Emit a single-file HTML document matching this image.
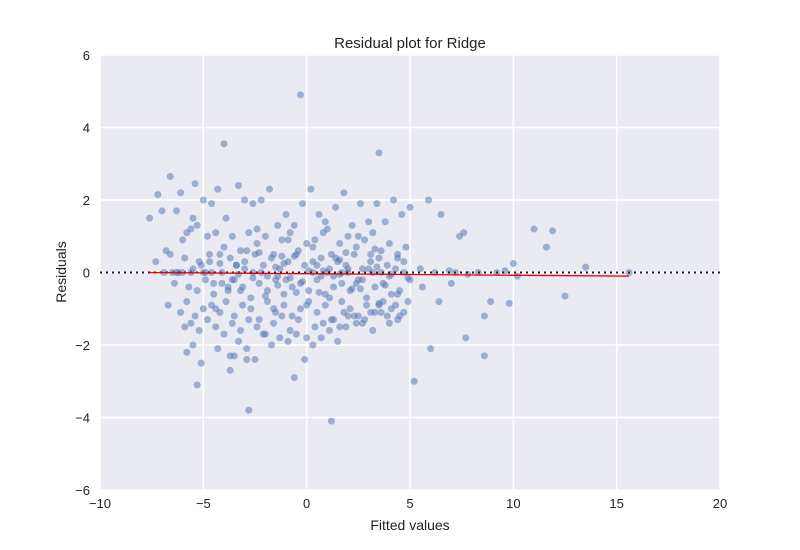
<!DOCTYPE html>
<html><head><meta charset="utf-8"><style>
body{margin:0;background:#fff;font-family:"Liberation Sans",Arial,sans-serif}
svg text{font-family:"Liberation Sans",Arial,sans-serif;fill:#222}
</style></head><body>
<svg id="chart" width="800" height="545">
<rect x="100" y="55" width="620" height="435" fill="#EAEAF2"/>
<g id="grid"></g><g id="ticks"></g><g id="pts"></g><g id="lines"></g>
<text x="410" y="48" text-anchor="middle" font-size="15">Residual plot for Ridge</text>
<text x="410" y="530" text-anchor="middle" font-size="14">Fitted values</text>
<text x="66" y="272" text-anchor="middle" font-size="14" transform="rotate(-90 66 272)">Residuals</text>
</svg>
<script>
const xTicks=[-10,-5,0,5,10,15,20];
const yTicks=[-6,-4,-2,0,2,4,6];
const fitX=[-7.6,15.6];
const fitY=[0.0,-0.1];
const residX=[-0.3,-4.0,3.5,-2.8,1.2,5.2,-5.3,15.6,13.5,12.5,11.9,11.0,11.6,10.0,9.8,8.6,8.6,7.7,8.9,7.6,7.4,6.5,5.9,6.0,-7.6,-7.2,-6.6,-6.1,-5.4,-7.0,-6.8,-6.3,-5.8,-5.5,-5.0,-4.6,-4.3,-3.9,-3.3,-3.0,-2.6,-2.2,-1.8,-1.4,-1.0,-0.6,-0.2,0.2,0.6,1.0,1.4,1.8,2.2,2.6,3.0,3.4,3.8,4.2,4.6,5.0,-6.5,-6.0,-5.6,-5.2,-4.8,-4.4,-4.0,-3.6,-3.2,-2.8,-2.4,-2.0,-1.6,-1.2,-0.8,-0.4,0.0,0.4,0.8,1.2,1.6,2.0,2.4,2.8,3.2,3.6,4.0,4.4,4.8,-6.2,-5.9,-5.5,-5.1,-4.7,-4.2,-3.7,-3.4,-3.0,-2.5,-2.1,-1.7,-1.3,-0.9,-0.5,-0.1,0.3,0.7,1.1,1.5,1.9,2.3,2.7,3.1,3.5,3.9,4.3,4.7,-6.4,-5.7,-5.3,-4.9,-4.5,-4.1,-3.8,-3.5,-3.1,-2.7,-2.3,-1.9,-1.5,-1.1,-0.7,-0.3,0.1,0.5,0.9,1.3,1.7,2.1,2.5,2.9,3.3,3.7,4.1,4.5,4.9,-6.7,-6.1,-5.8,-5.4,-5.0,-4.6,-4.2,-3.9,-3.5,-3.1,-2.7,-2.3,-1.9,-1.5,-1.1,-0.7,-0.3,0.1,0.5,0.9,1.3,1.7,2.1,2.5,2.9,3.3,3.7,4.1,4.5,-5.9,-5.6,-5.2,-4.8,-4.4,-4.0,-3.6,-3.2,-2.8,-2.4,-2.0,-1.6,-1.2,-0.8,-0.4,0.0,0.4,0.8,1.2,1.6,2.0,2.4,2.8,3.2,3.6,4.0,4.4,-5.8,-5.5,-5.1,-4.3,-3.7,-3.3,-2.9,-2.5,-2.1,-1.7,-1.3,-0.9,-0.5,-0.1,0.3,0.7,1.1,1.5,1.9,2.3,2.7,3.1,3.5,3.9,4.3,4.7,-3.7,-3.5,-2.9,-2.6,-1.0,-0.6,0.1,0.7,1.0,1.6,2.0,3.6,4.0,4.9,5.5,6.2,6.9,7.2,7.8,8.3,9.2,9.6,10.2,6.4,7.0,5.6,5.0,4.4,-4.5,-4.6,-5.0,-5.6,-6.0,-6.3,-6.9,-7.3,-6.6,-4.9,-4.1,-3.3,-1.4,0.3,1.7,3.2,4.7,
-3.0,-2.2,-1.5,-0.8,0.5,1.3,2.0,2.7,3.4,4.1,-3.4,-2.6,-1.9,-1.1,-0.2,0.8,1.6,2.4,3.0,3.8,-4.2,-3.6,-2.9,-2.0,-1.2,-0.5,0.3,1.1,1.9,2.6,3.3,4.4,-4.7,-3.8,-2.4,-1.6,-0.9,0.0,0.9,1.8,2.5,3.5,-5.3,-4.4,-3.2,-2.3,-1.4,-0.6,0.6,1.4,2.2,3.1];
const residY=[4.9,3.55,3.3,-3.8,-4.1,-3.0,-3.1,0.0,0.15,-0.65,1.15,1.2,0.7,0.25,-0.85,-2.3,-1.2,-1.8,-0.8,1.1,1.0,1.6,2.0,-2.1,1.5,2.15,2.65,2.2,2.45,1.7,0.6,1.7,1.1,1.5,2.0,1.9,2.3,1.5,2.4,2.0,1.9,2.0,2.3,1.3,1.6,1.3,1.9,2.3,1.6,1.2,1.8,2.2,1.3,1.9,1.4,1.9,1.4,2.0,1.6,1.8,0.0,0.9,1.2,0.3,1.0,1.1,0.7,1.0,0.6,1.1,0.8,1.0,0.5,0.9,1.1,0.6,0.8,0.9,1.1,0.5,0.8,1.0,0.7,0.9,1.1,0.6,0.8,0.5,0.7,0.0,0.4,0.1,0.2,0.3,0.5,0.4,0.2,0.3,0.5,0.2,0.4,0.1,0.3,0.5,0.2,0.3,0.4,0.1,0.3,0.2,0.5,0.1,0.3,0.4,0.2,0.1,0.3,-0.3,-0.4,-0.5,-0.2,-0.6,-0.3,-0.5,-0.2,-0.4,-0.7,-0.3,-0.5,-0.2,-0.6,-0.4,-0.3,-0.5,-0.2,-0.6,-0.4,-0.3,-0.5,-0.2,-0.7,-0.4,-0.3,-0.6,-0.5,-0.8,-0.9,-1.1,-0.8,-1.2,-1.0,-0.9,-1.1,-0.8,-1.2,-0.9,-1.0,-1.3,-0.8,-1.1,-0.9,-1.2,-1.0,-0.8,-1.1,-0.9,-1.3,-0.8,-1.0,-1.2,-0.9,-1.1,-0.8,-1.0,-1.2,-1.5,-1.4,-1.6,-1.3,-1.5,-1.7,-1.4,-1.6,-1.3,-1.5,-1.7,-1.4,-1.2,-1.6,-1.3,-1.8,-1.5,-1.4,-1.3,-1.5,-1.2,-1.4,-1.3,-1.6,-1.1,-1.4,-1.3,-2.2,-2.0,-2.5,-2.1,-2.3,-1.9,-2.1,-2.4,-1.7,-2.0,-1.8,-1.9,-1.7,-2.4,-2.0,-1.8,-1.6,-1.9,-1.5,-1.2,-1.4,-1.1,-0.9,-1.2,-0.9,-1.1,-2.7,-2.3,-2.4,0.0,-0.2,-2.9,0.05,-0.1,0.0,-0.05,0.0,0.0,-0.1,-0.15,0.1,0.0,0.05,0.0,-0.05,0.0,0.0,0.05,-0.1,-0.8,-0.3,-0.4,-0.2,0.4,-0.3,0.0,0.0,0.0,0.0,0.0,0.0,0.3,0.5,0.0,0.0,-0.05,-0.1,0.0,0.0,0.0,0.0,0.1,0.0,
0.15,-0.15,0.2,-0.1,0.1,-0.2,0.15,-0.05,0.2,-0.15,-0.1,0.25,-0.25,0.05,0.35,-0.3,0.1,-0.35,0.25,-0.2,0.6,-0.65,0.45,-0.55,0.7,-0.7,0.55,-0.45,0.65,-0.6,0.5,-0.4,1.2,-1.0,0.9,-0.9,1.4,-1.1,1.0,-0.85,1.3,-1.0,-0.5,0.55,-0.35,0.45,-0.55,0.4,-0.45,0.5];
const X0=100,X1=720,Y0=490,Y1=55;
const sx=v=>X0+(v-(-10))/30*(X1-X0);
const sy=v=>Y0-(v-(-6))/12*(Y0-Y1);
const NS="http://www.w3.org/2000/svg";
function mk(t,a,p){const e=document.createElementNS(NS,t);for(const k in a)e.setAttribute(k,a[k]);p.appendChild(e);return e;}
const grid=document.getElementById('grid'),ticks=document.getElementById('ticks'),pts=document.getElementById('pts'),lines=document.getElementById('lines');
const fmt=t=>t<0?'\u2212'+(-t):String(t);
xTicks.forEach(t=>{
 const l=mk('line',{x1:sx(t),x2:sx(t),y1:Y1,y2:Y0,stroke:'#fff','stroke-width':1.5},grid);
 
 
 const tx=mk('text',{x:sx(t),y:Y0+18,'text-anchor':'middle','font-size':13},ticks);
 tx.textContent=fmt(t);
 
 
});
yTicks.forEach(t=>{
 const l=mk('line',{x1:X0,x2:X1,y1:sy(t),y2:sy(t),stroke:'#fff','stroke-width':1.5},grid);
 
 
 const tx=mk('text',{x:X0-10,y:sy(t)+5,'text-anchor':'end','font-size':13},ticks);
 tx.textContent=fmt(t);
 
 
});
const n=Math.min(residX.length,residY.length);
for(let i=0;i<n;i++){
 const c=mk('circle',{cx:sx(residX[i]),cy:sy(residY[i]),r:3.5,fill:'#4C72B0','fill-opacity':0.5},pts);
 
 
}
const zl=mk('line',{x1:X0,x2:X1,y1:sy(0),y2:sy(0),stroke:'#222','stroke-width':2,'stroke-dasharray':'2,4'},lines);


const fl=mk('line',{x1:sx(fitX[0]),x2:sx(fitX[1]),y1:sy(fitY[0]),y2:sy(fitY[1]),stroke:'#e00','stroke-width':1.3},lines);


</script>
</body></html>
